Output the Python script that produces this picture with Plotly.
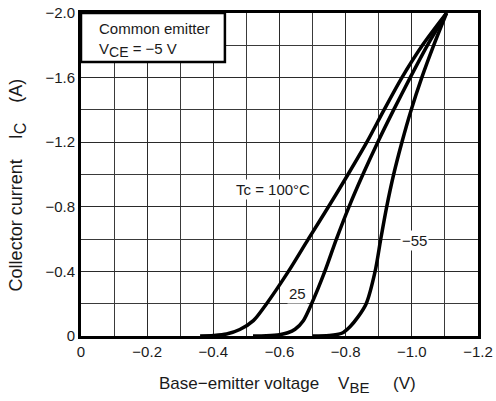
import plotly.graph_objects as go

# Base-emitter voltage (V) and collector current (A)
vbe_100 = [-0.36, -0.40, -0.44, -0.48, -0.521, -0.561, -0.627, -0.687, -0.748, -0.807, -0.864, -0.916, -0.970, -1.032, -1.105]
ic_100 = [0, -0.003, -0.012, -0.04, -0.095, -0.2, -0.4, -0.6, -0.8, -1.0, -1.2, -1.4, -1.6, -1.8, -2.0]

vbe_25 = [-0.52, -0.56, -0.60, -0.625, -0.647, -0.672, -0.697, -0.737, -0.772, -0.810, -0.852, -0.897, -0.945, -0.995, -1.047, -1.105]
ic_25 = [0, -0.002, -0.008, -0.02, -0.042, -0.095, -0.2, -0.4, -0.6, -0.8, -1.0, -1.2, -1.4, -1.6, -1.8, -2.0]

vbe_m55 = [-0.70, -0.75, -0.788, -0.813, -0.838, -0.862, -0.889, -0.906, -0.924, -0.945, -0.970, -0.998, -1.030, -1.066, -1.105]
ic_m55 = [0, -0.003, -0.017, -0.058, -0.12, -0.2, -0.4, -0.6, -0.8, -1.0, -1.2, -1.4, -1.6, -1.8, -2.0]

x_ticks = [0, -0.2, -0.4, -0.6, -0.8, -1.0, -1.2]
x_tick_labels = ["0", "\u22120.2", "\u22120.4", "\u22120.6", "\u22120.8", "\u22121.0", "\u22121.2"]
x_minor = [-0.1, -0.3, -0.5, -0.7, -0.9, -1.1]
y_ticks = [0, -0.4, -0.8, -1.2, -1.6, -2.0]
y_tick_labels = ["0", "\u22120.4", "\u22120.8", "\u22121.2", "\u22121.6", "\u22122.0"]
y_minor = [-0.2, -0.6, -1.0, -1.4, -1.8]

FONT = "Liberation Sans, Arial, sans-serif"
TXT = "#1a1a1a"
NB = "\u00a0"

fig = go.Figure()
for xs, ys in [(vbe_100, ic_100), (vbe_25, ic_25), (vbe_m55, ic_m55)]:
    fig.add_trace(go.Scatter(x=xs, y=ys, mode="lines",
                             line=dict(color="black", width=3.5, shape="spline", smoothing=0.8),
                             showlegend=False, hoverinfo="skip"))

def axis_common(minor_vals):
    return dict(showline=True, linecolor="black", linewidth=3, mirror=True,
                showgrid=True, gridcolor="#2a2a2a", gridwidth=1, zeroline=False,
                ticks="", automargin=False,
                tickfont=dict(family=FONT, size=15, color=TXT),
                minor=dict(tickmode="array", tickvals=minor_vals, showgrid=True,
                           gridcolor="#3a3a3a", gridwidth=1, ticks=""))

fig.update_xaxes(range=[0, -1.2], tickmode="array", tickvals=x_ticks, ticktext=x_tick_labels,
                 **axis_common(x_minor))
fig.update_yaxes(range=[0, -2.0], tickmode="array", tickvals=y_ticks, ticktext=y_tick_labels,
                 **axis_common(y_minor))

# axis titles
fig.add_annotation(xref="paper", yref="paper", x=0.52, y=-0.152, xanchor="center", yanchor="middle",
                   text="Base\u2212emitter voltage" + NB * 4 + "V<sub><span style='font-size:15px'>BE</span></sub>"
                        + NB * 5 + "(V)",
                   showarrow=False, font=dict(family=FONT, size=17, color=TXT))
fig.add_annotation(xref="paper", yref="paper", x=-0.159, y=0.469, xanchor="center", yanchor="middle",
                   textangle=-90,
                   text="Collector current" + NB * 4 + "I<sub><span style='font-size:16px'>C</span></sub>"
                        + NB * 4 + "(A)",
                   showarrow=False, font=dict(family=FONT, size=18, color=TXT))

# condition box
fig.add_shape(type="rect", xref="x", yref="y", x0=0, x1=-0.435, y0=-1.697, y1=-2.0,
              fillcolor="white", line=dict(color="black", width=2.5), layer="above")
fig.add_annotation(x=-0.048, y=-1.907, xref="x", yref="y", text="Common emitter",
                   showarrow=False, xanchor="left", font=dict(family=FONT, size=15, color=TXT))
fig.add_annotation(x=-0.048, y=-1.771, xref="x", yref="y",
                   text="V<sub><span style='font-size:14px'>CE</span></sub> = \u22125 V",
                   showarrow=False, xanchor="left", font=dict(family=FONT, size=15, color=TXT))

# curve labels
fig.add_annotation(x=-0.58, y=-0.91, text="Tc = 100\u00b0C", showarrow=False,
                   font=dict(family=FONT, size=15, color=TXT), bgcolor="white")
fig.add_annotation(x=-0.653, y=-0.266, text="25", showarrow=False,
                   font=dict(family=FONT, size=15, color=TXT), bgcolor="white")
fig.add_annotation(x=-1.007, y=-0.594, text="\u221255", showarrow=False,
                   font=dict(family=FONT, size=15, color=TXT), bgcolor="white")

fig.update_layout(width=496, height=401, margin=dict(l=81, r=18, t=13, b=65),
                  plot_bgcolor="white", paper_bgcolor="white")

# remove the default page margin so the figure sits at the window's top-left corner
fig.write_html("out.html", config={"displayModeBar": False},
               post_script="document.body.style.margin='0';")
